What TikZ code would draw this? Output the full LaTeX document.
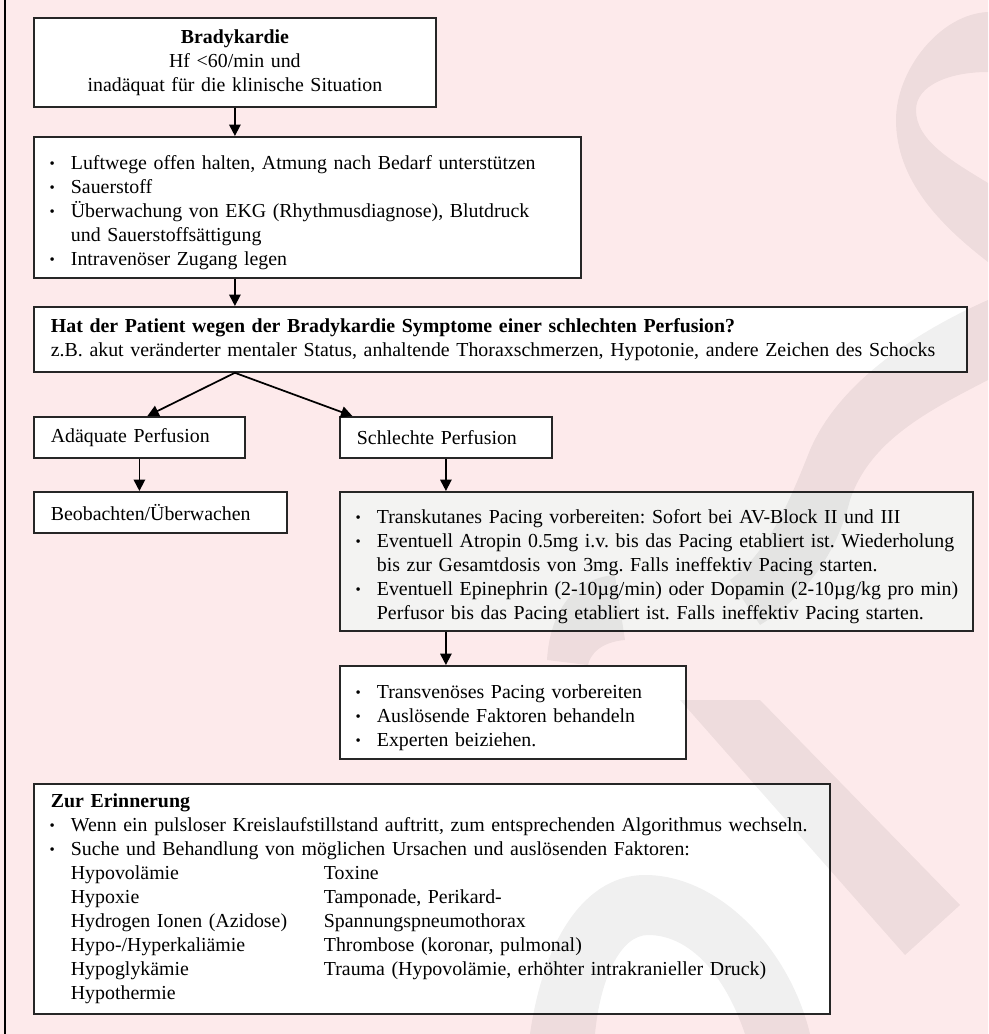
\documentclass[tikz,border=0pt]{standalone}
\usepackage{fontspec}
\setmainfont{Liberation Serif}
\usetikzlibrary{arrows.meta}

\definecolor{bgpink}{RGB}{253,234,235}
\definecolor{boxgrey}{RGB}{243,243,242}

% bullet line with hanging indent
\newcommand{\bul}[1]{\par\noindent\hangindent=15pt\hangafter=1\makebox[15pt][l]{\hspace{-1pt}\raisebox{0.6pt}{\scalebox{0.75}{\textbullet}}}#1\par}
\newcommand{\twocol}[2]{\par\noindent\hspace*{15pt}\makebox[189.75pt][l]{#1}#2}

\tikzset{
  box/.style={draw=black!85, line width=1.35pt, fill=white, anchor=north west,
    inner xsep=12.75pt, inner ysep=0pt, align=left,
    font=\fontsize{14.9}{18}\selectfont\frenchspacing},
  flow/.style={line width=1.3pt, -{Triangle[length=8.5pt,width=8.5pt]}},
  wmark/.style={fill=black, opacity=0.06},
}

\begin{document}
\begin{tikzpicture}[x=0.75pt,y=-0.75pt]
\useasboundingbox (0,0) rectangle (988,1034);
\fill[bgpink] (0,0) rectangle (988,1034);
\draw[line width=0.8pt] (5,0) -- (5,1034);

\node[box, align=center, text width=276pt, minimum height=66.75pt] (b1) at (33,17)
  {\textbf{Bradykardie}\\Hf <60/min und\\inadäquat für die klinische Situation};
\node[box, text width=384.75pt, minimum height=105.75pt] (b2) at (33,136)
  {\bul{Luftwege offen halten, Atmung nach Bedarf unterstützen}
   \bul{Sauerstoff}
   \bul{Überwachung von EKG (Rhythmusdiagnose), Blutdruck\newline und Sauerstoffsättigung}
   \bul{Intravenöser Zugang legen}};
\node[box, text width=674.25pt, minimum height=48.75pt] (b3) at (33,306)
  {\textbf{Hat der Patient wegen der Bradykardie Symptome einer schlechten Perfusion?}\\
   z.B. akut veränderter mentaler Status, anhaltende Thoraxschmerzen, Hypotonie, andere Zeichen des Schocks};
\node[box, text width=132.75pt, minimum height=30.75pt] (b4) at (33,416) {Adäquate Perfusion};
\node[box, text width=133.5pt, minimum height=30.75pt] (b5) at (339,416) {Schlechte Perfusion};
\node[box, text width=164.25pt, minimum height=30.75pt] (b6) at (33,491) {Beobachten/Überwachen};
\node[box, fill=boxgrey, text width=449.25pt, minimum height=104.25pt] (b7) at (339,491)
  {\bul{Transkutanes Pacing vorbereiten: Sofort bei AV-Block II und III}
   \bul{\mbox{Eventuell Atropin 0.5mg i.v. bis das Pacing etabliert ist. Wiederholung}\newline
        \mbox{bis zur Gesamtdosis von 3mg. Falls ineffektiv Pacing starten.}}
   \bul{\mbox{Eventuell Epinephrin (2-10µg/min) oder Dopamin (2-10µg/kg pro min)}\newline
        \mbox{Perfusor bis das Pacing etabliert ist. Falls ineffektiv Pacing starten.}}};
\node[box, text width=234pt, minimum height=69.75pt] (b8) at (339,665)
  {\bul{Transvenöses Pacing vorbereiten}
   \bul{Auslösende Faktoren behandeln}
   \bul{Experten beiziehen.}};
\node[box, text width=571.5pt, minimum height=172.5pt] (b9) at (33,783)
  {\textbf{Zur Erinnerung}
   \bul{Wenn ein pulsloser Kreislaufstillstand auftritt, zum entsprechenden Algorithmus wechseln.}
   \bul{Suche und Behandlung von möglichen Ursachen und auslösenden Faktoren:}
   \twocol{Hypovolämie}{Toxine}
   \twocol{Hypoxie}{Tamponade, Perikard-}
   \twocol{Hydrogen Ionen (Azidose)}{Spannungspneumothorax}
   \twocol{Hypo-/Hyperkaliämie}{Thrombose (koronar, pulmonal)}
   \twocol{Hypoglykämie}{Trauma (Hypovolämie, erhöhter intrakranieller Druck)}
   \twocol{Hypothermie}{}};

\coordinate (split) at (b1.south |- b3.south);
\draw[flow] (b1.south) -- (b1.south |- b2.north);
\draw[flow] (b1.south |- b2.south) -- (b1.south |- b3.north);
\draw[flow] (split) -- ([xshift=6pt]b4.north);
\draw[flow] (split) -- ([xshift=10pt]b5.north west);
\draw[flow] (b4.south) -- (b4.south |- b6.north);
\draw[flow] (b5.south) -- (b5.south |- b7.north);
\draw[flow] (b5.south |- b7.south) -- (b5.south |- b8.north);

% watermark
\fill[wmark] (988,12) .. controls (940,14) and (896,70) .. (896,120)
  .. controls (896,180) and (940,225) .. (988,262) -- (988,183)
  .. controls (950,160) and (916,140) .. (916,110)
  .. controls (916,85) and (950,72) .. (988,72) -- cycle;
\fill[wmark] (988,300) -- (988,380) .. controls (930,410) and (870,440) .. (850,500)
  .. controls (835,560) and (800,600) .. (760,625) -- (730,580)
  .. controls (770,550) and (790,500) .. (810,450)
  .. controls (840,380) and (920,330) .. cycle;
\fill[wmark] (547,660) .. controls (550,610) and (575,578) .. (615,575)
  -- (625,640) .. controls (600,642) and (590,655) .. (588,665) -- cycle;
\fill[wmark] (530,1034) .. controls (545,930) and (590,875) .. (645,875)
  .. controls (720,875) and (790,950) .. (810,1034) -- (745,1034)
  .. controls (725,975) and (690,935) .. (648,935)
  .. controls (620,935) and (600,980) .. (595,1034) -- cycle;
\fill[wmark] (680,700) -- (760,700) -- (960,905) -- (905,955) -- cycle;
\end{tikzpicture}
\end{document}
